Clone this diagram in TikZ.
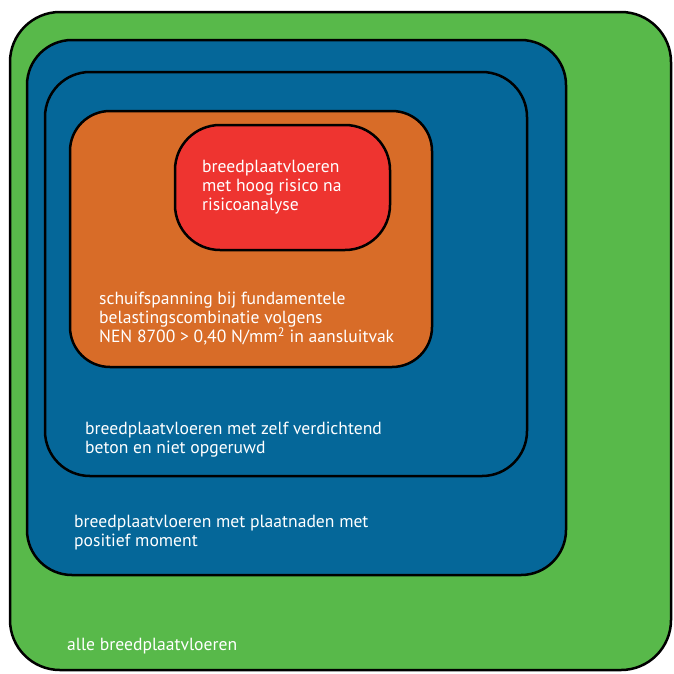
\documentclass[tikz,border=0pt]{standalone}
\usepackage{fontspec}
\setmainfont{PT Sans}
\definecolor{setgreen}{RGB}{88,185,74}
\definecolor{setblue}{RGB}{5,103,153}
\definecolor{setorange}{RGB}{216,108,40}
\definecolor{setred}{RGB}{238,52,48}
\tikzset{setbox/.style={draw=black,line width=2.5pt}}
\tikzset{setlabel/.style={text=white,anchor=north west,inner sep=0pt,align=left,
  font=\fontsize{17.6}{18.8}\selectfont}}

\begin{document}
\begin{tikzpicture}[x=1pt,y=-1pt]
\useasboundingbox (0,0) rectangle (674,673);

% Define the nested sets
\draw[setbox,fill=setgreen,rounded corners=50pt] (10,12) rectangle (671,670);
\draw[setbox,fill=setblue,rounded corners=45pt] (27,40) rectangle (566,575);
\draw[setbox,fill=setblue,rounded corners=45pt] (45,72) rectangle (527,476);
\draw[setbox,fill=setorange,rounded corners=40pt] (70,111) rectangle (432,367);
\draw[setbox,fill=setred,rounded corners=45pt] (175,125) rectangle (390,250);

% Add some text
\node[setlabel] (red) at (202,160) {breedplaatvloeren\\met hoog risico na\\risicoanalyse};
\node[setlabel] (orange) at (99,292) {schuifspanning bij fundamentele\\belastingscombinatie volgens\\NEN 8700 > 0,40 N/mm\textsuperscript{2} in aansluitvak};
\node[setlabel] (inner) at (85,422) {breedplaatvloeren met zelf verdichtend\\beton en niet opgeruwd};
\node[setlabel] (outer) at (74,515) {breedplaatvloeren met plaatnaden met\\positief moment};
\node[setlabel] (all) at (67,638) {alle breedplaatvloeren};
\end{tikzpicture}
\end{document}
